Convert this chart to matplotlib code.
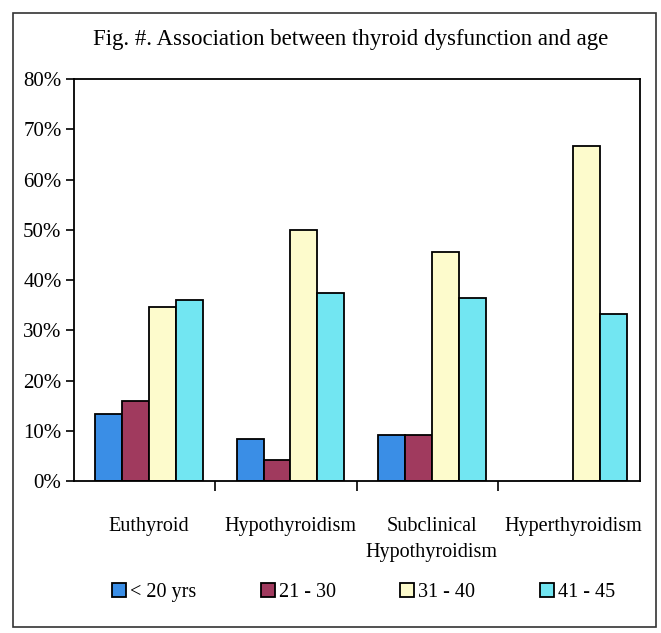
import matplotlib
matplotlib.use("Agg")
import matplotlib.pyplot as plt
import numpy as np
from matplotlib.patches import Rectangle

# Percentage of patients in each age group, per thyroid status
categories = ["Euthyroid", "Hypothyroidism", "Subclinical\nHypothyroidism", "Hyperthyroidism"]
age_groups = ["< 20 yrs", "21 - 30", "31 - 40", "41 - 45"]
under_20 = [13.3, 8.3, 9.1, 0.0]
age_21_30 = [16.0, 4.2, 9.1, 0.0]
age_31_40 = [34.7, 50.0, 45.5, 66.7]
age_41_45 = [36.0, 37.5, 36.4, 33.3]
y_ticks = [0, 10, 20, 30, 40, 50, 60, 70, 80]

series = [under_20, age_21_30, age_31_40, age_41_45]
colors = ["#3a8ee6", "#a03a5e", "#fdfbcc", "#72e6f2"]

plt.rcParams["font.family"] = ["Liberation Serif", "DejaVu Serif"]

fig = plt.figure(figsize=(6.61, 6.33), dpi=100)
ax = fig.add_axes([0.112, 0.24, 0.856, 0.635])

x = np.arange(len(categories))
width = 0.19
for i, (vals, col) in enumerate(zip(series, colors)):
    offs = (i - 1.5) * width + 0.03
    ax.bar(x + offs, vals, width, color=col, edgecolor="black", linewidth=1.3,
           label=age_groups[i])

ax.set_xlim(-0.5, len(categories) - 0.5)
ax.set_ylim(0, 80)
ax.set_yticks(y_ticks)
ax.set_yticklabels([f"{v}%" for v in y_ticks], fontsize=15)
ax.tick_params(axis="y", direction="out", length=6, width=1.2, pad=3)

ax.set_xticks(x + 0.03)
ax.set_xticklabels(categories, fontsize=14.5, linespacing=1.5)
ax.tick_params(axis="x", which="major", length=0, pad=26)
ax.set_xticks(np.arange(0.5, len(categories) - 1), minor=True)
ax.tick_params(axis="x", which="minor", direction="out", length=7, width=1.2)

for s in ax.spines.values():
    s.set_linewidth(1.3)

fig.text(0.53, 0.937, "Fig. #. Association between thyroid dysfunction and age",
         ha="center", va="center", fontsize=16.5)

leg = fig.legend(loc="lower center", bbox_to_anchor=(0.55, 0.02), ncol=4,
                 frameon=False, fontsize=14.5, handlelength=0.7, handleheight=0.7,
                 handletextpad=0.2, columnspacing=3.2)

# page frame around the figure
fig.add_artist(Rectangle((0.02, 0.01), 0.972, 0.97, transform=fig.transFigure,
                         fill=False, edgecolor="#333333", linewidth=1.2))

fig.savefig("out.png", dpi=100)
